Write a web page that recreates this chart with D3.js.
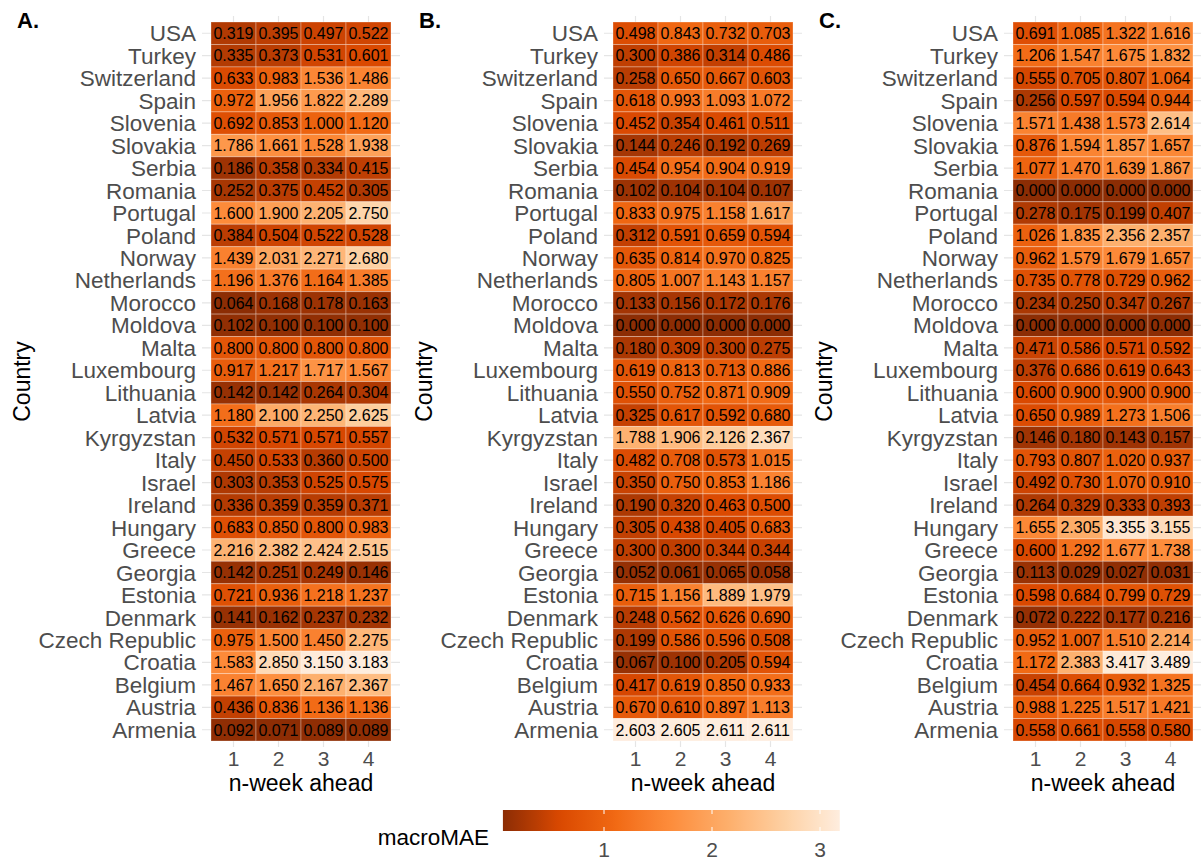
<!DOCTYPE html>
<html>
<head>
<meta charset="utf-8" />
<title>macroMAE heatmaps</title>
<script src="https://d3js.org/d3.v7.min.js"></script>
<style>
  body { margin: 0; background: #fff; }
  svg text { font-family: "Liberation Sans", Arial, Helvetica, sans-serif; }
</style>
</head>
<body>
<div id="chart"></div>
<script>
// countries, top row to bottom row
const countries = ["USA", "Turkey", "Switzerland", "Spain", "Slovenia", "Slovakia", "Serbia", "Romania",
  "Portugal", "Poland", "Norway", "Netherlands", "Morocco", "Moldova", "Malta", "Luxembourg",
  "Lithuania", "Latvia", "Kyrgyzstan", "Italy", "Israel", "Ireland", "Hungary", "Greece",
  "Georgia", "Estonia", "Denmark", "Czech Republic", "Croatia", "Belgium", "Austria", "Armenia"];
const weeks = [1, 2, 3, 4];

// macroMAE per country (same order), columns = 1..4 weeks ahead
const panelA = [
  [0.319, 0.395, 0.497, 0.522], [0.335, 0.373, 0.531, 0.601], [0.633, 0.983, 1.536, 1.486],
  [0.972, 1.956, 1.822, 2.289], [0.692, 0.853, 1.000, 1.120], [1.786, 1.661, 1.528, 1.938],
  [0.186, 0.358, 0.334, 0.415], [0.252, 0.375, 0.452, 0.305], [1.600, 1.900, 2.205, 2.750],
  [0.384, 0.504, 0.522, 0.528], [1.439, 2.031, 2.271, 2.680], [1.196, 1.376, 1.164, 1.385],
  [0.064, 0.168, 0.178, 0.163], [0.102, 0.100, 0.100, 0.100], [0.800, 0.800, 0.800, 0.800],
  [0.917, 1.217, 1.717, 1.567], [0.142, 0.142, 0.264, 0.304], [1.180, 2.100, 2.250, 2.625],
  [0.532, 0.571, 0.571, 0.557], [0.450, 0.533, 0.360, 0.500], [0.303, 0.353, 0.525, 0.575],
  [0.336, 0.359, 0.359, 0.371], [0.683, 0.850, 0.800, 0.983], [2.216, 2.382, 2.424, 2.515],
  [0.142, 0.251, 0.249, 0.146], [0.721, 0.936, 1.218, 1.237], [0.141, 0.162, 0.237, 0.232],
  [0.975, 1.500, 1.450, 2.275], [1.583, 2.850, 3.150, 3.183], [1.467, 1.650, 2.167, 2.367],
  [0.436, 0.836, 1.136, 1.136], [0.092, 0.071, 0.089, 0.089]
];
const panelB = [
  [0.498, 0.843, 0.732, 0.703], [0.300, 0.386, 0.314, 0.486], [0.258, 0.650, 0.667, 0.603],
  [0.618, 0.993, 1.093, 1.072], [0.452, 0.354, 0.461, 0.511], [0.144, 0.246, 0.192, 0.269],
  [0.454, 0.954, 0.904, 0.919], [0.102, 0.104, 0.104, 0.107], [0.833, 0.975, 1.158, 1.617],
  [0.312, 0.591, 0.659, 0.594], [0.635, 0.814, 0.970, 0.825], [0.805, 1.007, 1.143, 1.157],
  [0.133, 0.156, 0.172, 0.176], [0.000, 0.000, 0.000, 0.000], [0.180, 0.309, 0.300, 0.275],
  [0.619, 0.813, 0.713, 0.886], [0.550, 0.752, 0.871, 0.909], [0.325, 0.617, 0.592, 0.680],
  [1.788, 1.906, 2.126, 2.367], [0.482, 0.708, 0.573, 1.015], [0.350, 0.750, 0.853, 1.186],
  [0.190, 0.320, 0.463, 0.500], [0.305, 0.438, 0.405, 0.683], [0.300, 0.300, 0.344, 0.344],
  [0.052, 0.061, 0.065, 0.058], [0.715, 1.156, 1.889, 1.979], [0.248, 0.562, 0.626, 0.690],
  [0.199, 0.586, 0.596, 0.508], [0.067, 0.100, 0.205, 0.594], [0.417, 0.619, 0.850, 0.933],
  [0.670, 0.610, 0.897, 1.113], [2.603, 2.605, 2.611, 2.611]
];
const panelC = [
  [0.691, 1.085, 1.322, 1.616], [1.206, 1.547, 1.675, 1.832], [0.555, 0.705, 0.807, 1.064],
  [0.256, 0.597, 0.594, 0.944], [1.571, 1.438, 1.573, 2.614], [0.876, 1.594, 1.857, 1.657],
  [1.077, 1.470, 1.639, 1.867], [0.000, 0.000, 0.000, 0.000], [0.278, 0.175, 0.199, 0.407],
  [1.026, 1.835, 2.356, 2.357], [0.962, 1.579, 1.679, 1.657], [0.735, 0.778, 0.729, 0.962],
  [0.234, 0.250, 0.347, 0.267], [0.000, 0.000, 0.000, 0.000], [0.471, 0.586, 0.571, 0.592],
  [0.376, 0.686, 0.619, 0.643], [0.600, 0.900, 0.900, 0.900], [0.650, 0.989, 1.273, 1.506],
  [0.146, 0.180, 0.143, 0.157], [0.793, 0.807, 1.020, 0.937], [0.492, 0.730, 1.070, 0.910],
  [0.264, 0.329, 0.333, 0.393], [1.655, 2.305, 3.355, 3.155], [0.600, 1.292, 1.677, 1.738],
  [0.113, 0.029, 0.027, 0.031], [0.598, 0.684, 0.799, 0.729], [0.072, 0.222, 0.177, 0.216],
  [0.952, 1.007, 1.510, 2.214], [1.172, 2.383, 3.417, 3.489], [0.454, 0.664, 0.932, 1.325],
  [0.988, 1.225, 1.517, 1.421], [0.558, 0.661, 0.558, 0.580]
];
const panelLabels = ["A.", "B.", "C."];
const legendTicks = [1, 2, 3];

// brewer "Oranges" reversed (distiller default)
const oranges = ["#8C2D04", "#D94801", "#F16913", "#FD8D3C", "#FDAE6B", "#FDD0A2", "#FEEDDE"];

const W = 1201, H = 863;
const svg = d3.select("#chart").append("svg")
  .attr("width", W).attr("height", H);

const tileW = 180, tileTop = 22, tileBottom = 741;
const panelLeft = [211, 613, 1013];
const panels = [panelA, panelB, panelC];

function colorScale(min, max) {
  const stops = d3.range(oranges.length).map(i => min + (max - min) * i / (oranges.length - 1));
  return d3.scaleLinear().domain(stops).range(oranges).interpolate(d3.interpolateLab).clamp(true);
}

const scales = [];

panels.forEach((data, p) => {
  const left = panelLeft[p];
  const x = d3.scaleBand().domain(weeks).range([left, left + tileW]);
  const y = d3.scaleBand().domain(countries).range([tileTop, tileBottom]);
  const flat = data.flat();
  const color = colorScale(d3.min(flat), d3.max(flat));
  scales.push(color);

  const g = svg.append("g");

  // grid lines (theme_minimal)
  g.selectAll(".hgrid").data(countries).join("line")
    .attr("x1", left - 9).attr("x2", left + tileW + 9)
    .attr("y1", d => y(d) + y.bandwidth() / 2).attr("y2", d => y(d) + y.bandwidth() / 2)
    .attr("stroke", "#e5e5e5").attr("stroke-width", 1.2);
  g.selectAll(".vgrid").data(weeks).join("line")
    .attr("x1", d => x(d) + x.bandwidth() / 2).attr("x2", d => x(d) + x.bandwidth() / 2)
    .attr("y1", tileTop - 6).attr("y2", tileBottom + 6)
    .attr("stroke", "#e5e5e5").attr("stroke-width", 1.2);

  const cells = [];
  data.forEach((row, i) => row.forEach((v, j) => cells.push({ c: countries[i], w: weeks[j], v })));

  g.selectAll("rect").data(cells).join("rect")
    .attr("x", d => x(d.w)).attr("y", d => y(d.c))
    .attr("width", x.bandwidth()).attr("height", y.bandwidth())
    .attr("fill", d => color(d.v))
    .attr("stroke", "rgba(255,255,255,0.3)").attr("stroke-width", 1);

  g.selectAll(".val").data(cells).join("text")
    .attr("x", d => x(d.w) + x.bandwidth() / 2)
    .attr("y", d => y(d.c) + y.bandwidth() / 2)
    .attr("dy", "0.36em")
    .attr("text-anchor", "middle")
    .attr("font-size", 16).attr("fill", "#000")
    .text(d => d.v.toFixed(3));

  // y axis labels
  g.selectAll(".ylab").data(countries).join("text")
    .attr("x", left - 15)
    .attr("y", d => y(d) + y.bandwidth() / 2)
    .attr("dy", "0.36em")
    .attr("text-anchor", "end")
    .attr("font-size", 22.5).attr("fill", "#4d4d4d")
    .text(d => d);

  // x axis labels
  g.selectAll(".xlab").data(weeks).join("text")
    .attr("x", d => x(d) + x.bandwidth() / 2)
    .attr("y", 766)
    .attr("text-anchor", "middle")
    .attr("font-size", 21).attr("fill", "#4d4d4d")
    .text(d => d);

  g.append("text")
    .attr("x", left + tileW / 2).attr("y", 791)
    .attr("text-anchor", "middle")
    .attr("font-size", 23).attr("fill", "#000")
    .text("n-week ahead");

  g.append("text")
    .attr("transform", `translate(${left - 181},${(tileTop + tileBottom) / 2}) rotate(-90)`)
    .attr("text-anchor", "middle")
    .attr("font-size", 23).attr("fill", "#000")
    .text("Country");

  g.append("text")
    .attr("x", left - 194).attr("y", 28)
    .attr("font-size", 22).attr("font-weight", "bold").attr("fill", "#000")
    .text(panelLabels[p]);
});

// legend (colour bar uses panel A's scale)
const legColor = scales[0];
const flatA = panelA.flat();
const lx = d3.scaleLinear().domain([1, 3]).range([604, 820]);
const lmin = d3.min(flatA), lmax = d3.max(flatA);

const defs = svg.append("defs");
const grad = defs.append("linearGradient").attr("id", "legGrad")
  .attr("x1", "0%").attr("x2", "100%").attr("y1", "0%").attr("y2", "0%");
d3.range(0, 1.0001, 0.02).forEach(t => {
  grad.append("stop").attr("offset", (t * 100) + "%")
    .attr("stop-color", legColor(lmin + t * (lmax - lmin)));
});

const barTop = 810, barH = 21;
svg.append("rect")
  .attr("x", lx(lmin)).attr("y", barTop)
  .attr("width", lx(lmax) - lx(lmin)).attr("height", barH)
  .attr("fill", "url(#legGrad)");

legendTicks.forEach(t => {
  svg.append("line").attr("x1", lx(t)).attr("x2", lx(t))
    .attr("y1", barTop).attr("y2", barTop + 4)
    .attr("stroke", "#fff").attr("stroke-width", 1);
  svg.append("line").attr("x1", lx(t)).attr("x2", lx(t))
    .attr("y1", barTop + barH - 4).attr("y2", barTop + barH)
    .attr("stroke", "#fff").attr("stroke-width", 1);
});

svg.selectAll(".ltick").data(legendTicks).join("text")
  .attr("x", d => lx(d)).attr("y", 857)
  .attr("text-anchor", "middle")
  .attr("font-size", 21).attr("fill", "#4d4d4d")
  .text(d => d);

svg.append("text")
  .attr("x", 489).attr("y", 845)
  .attr("text-anchor", "end")
  .attr("font-size", 22.5).attr("fill", "#000")
  .text("macroMAE");
</script>
</body>
</html>
